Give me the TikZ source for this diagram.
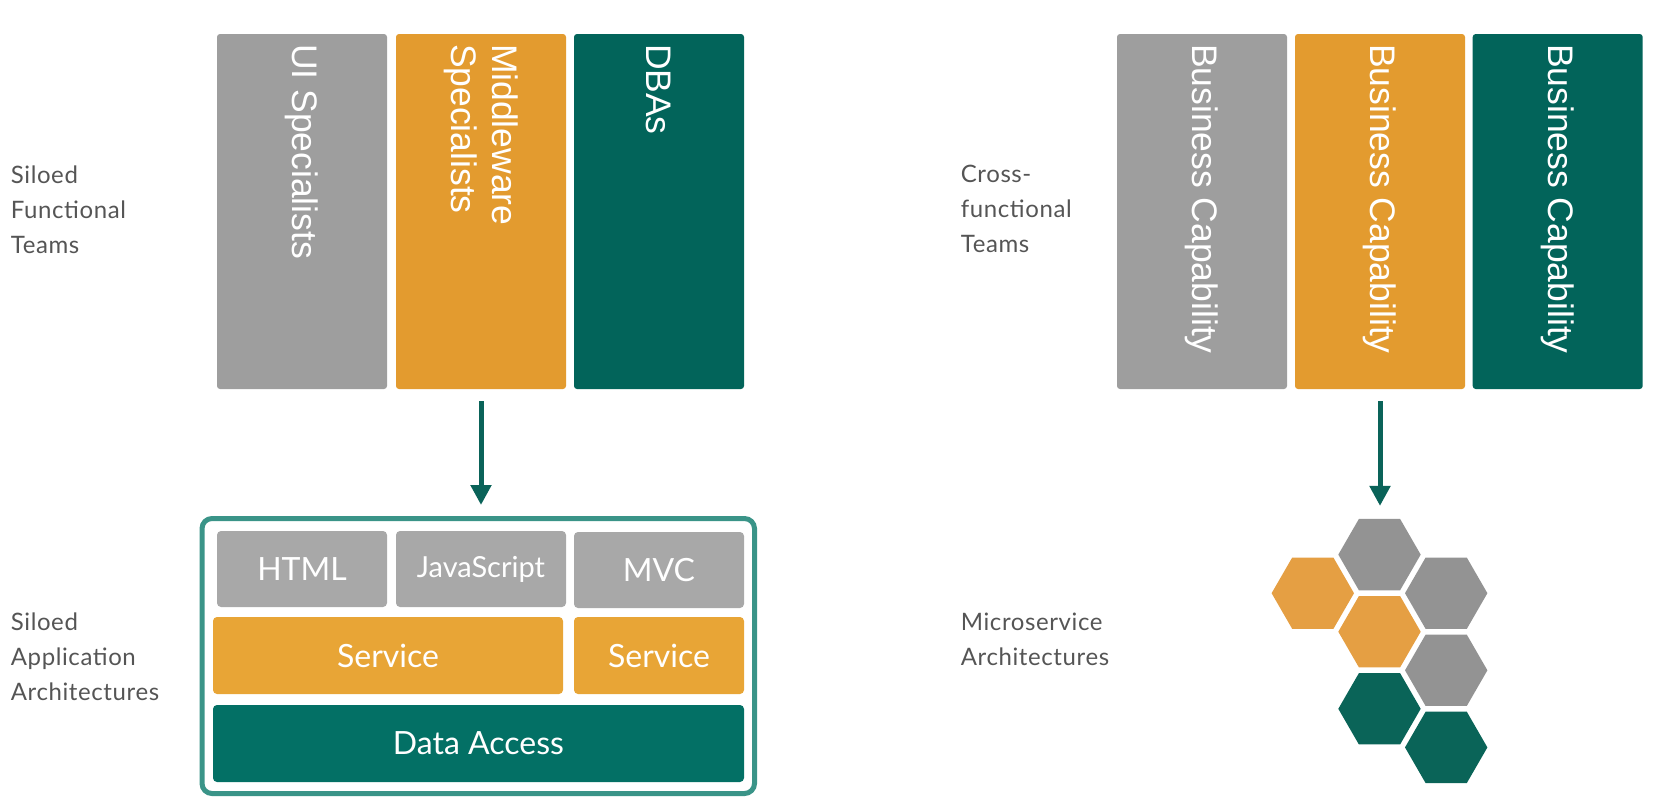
\documentclass[tikz,border=0pt]{standalone}
\usepackage{fontspec}
\usepackage{tikz}
\usetikzlibrary{arrows.meta,shapes.geometric}

\newfontfamily\labelfont{Lato}
\newfontfamily\sidefont{Lato}[LetterSpace=2.5]
\newfontfamily\teamfont{Liberation Sans}

\definecolor{colgray}{HTML}{9E9E9E}
\definecolor{colorange}{HTML}{E39B2F}
\definecolor{colgreen}{HTML}{02645A}
\definecolor{boxgray}{HTML}{A8A8A8}
\definecolor{boxorange}{HTML}{E8A536}
\definecolor{boxgreen}{HTML}{037065}
\definecolor{frameteal}{HTML}{3A9488}
\definecolor{hexgray}{HTML}{939393}
\definecolor{hexorange}{HTML}{E59F43}
\definecolor{hexgreen}{HTML}{0A6458}
\definecolor{arrowteal}{HTML}{0A6359}
\definecolor{labelgray}{HTML}{555555}

\tikzset{
  team/.style={rectangle, rounded corners=1.5pt, minimum width=85pt, minimum height=177.5pt, inner sep=0pt},
  teamtext/.style={rotate=-90, anchor=west, inner sep=0pt, text=white, align=left,
    font=\teamfont\fontsize{17.75pt}{20.5pt}\selectfont},
  layer/.style={rectangle, rounded corners=2pt, minimum width=85pt, minimum height=38pt, inner sep=0pt,
    text=white, font=\labelfont\fontsize{16pt}{19pt}\selectfont},
  sidelabel/.style={anchor=north west, inner sep=0pt, align=left, text=labelgray,
    font=\sidefont\fontsize{12pt}{17.5pt}\selectfont},
  hexcell/.style={regular polygon, regular polygon sides=6, minimum size=41.2pt, inner sep=0pt, outer sep=0pt},
  flow/.style={draw=arrowteal, line width=2.5pt, -{Triangle[width=10pt,length=10pt]}}
}

\begin{document}
\begin{tikzpicture}[x=0.5pt,y=-0.5pt]

\useasboundingbox (0,0) rectangle (1667,804);

% side labels
\node[sidelabel] (silofun) at (10.5,165) {Siloed\\Functional\\Teams};
\node[sidelabel] (siloarch) at (10.5,612) {Siloed\\Application\\Architectures};
\node[sidelabel] (crossfun) at (960.5,165) {Cross-\\functional\\Teams};
\node[sidelabel] (microarch) at (960.5,613) {Microservice\\Architectures};

% siloed teams
\foreach \X/\Tint/\Name in {302/colgray/ui, 481/colorange/mid, 659/colgreen/dba}{
    \node[team, fill=\Tint] (\Name) at (\X,211.5) {};
}
\node[teamtext] (uitext) at ([yshift=-5pt]ui.north) {UI Specialists};
\node[teamtext] (midtext) at ([yshift=-5pt]mid.north) {Middleware\\Specialists};
\node[teamtext] (dbatext) at ([yshift=-5pt]dba.north) {DBAs};

% cross-functional teams
\foreach \X/\Tint/\Name in {1202/colgray/bizui, 1380/colorange/bizmid, 1557.7/colgreen/bizdb}{
    \node[team, fill=\Tint] (\Name) at (\X,211.5) {};
    \node[teamtext] (\Name text) at ([yshift=-5pt]\Name.north) {Business Capability};
}

% siloed application
\node[draw=frameteal, line width=2.5pt, rounded corners=5pt, minimum width=276.25pt, minimum height=137.5pt] (stack) at (478.25,656) {};
\node[layer, fill=boxgray] (html) at (302,569) {HTML};
\node[layer, fill=boxgray, font=\labelfont\fontsize{14.5pt}{17pt}\selectfont] (js) at (481,569) {JavaScript};
\node[layer, fill=boxgray] (mvc) at (659,570) {MVC};
\node[layer, fill=boxorange, minimum width=175pt, minimum height=38.5pt] (svcwide) at (388,655.5) {Service};
\node[layer, fill=boxorange, minimum height=38.5pt] (svc) at (659,655.5) {Service};
\node[layer, fill=boxgreen, minimum width=265.5pt, minimum height=38.5pt] (data) at (478.5,743.5) {Data Access};

% microservices
\foreach \X/\Y/\Tint/\Name in {1379.5/554.6/hexgray/hexa, 1312.8/593.2/hexorange/hexb, 1446.2/593.2/hexgray/hexc,
    1379.5/631.7/hexorange/hexd, 1446.2/670.3/hexgray/hexe, 1379.5/708.8/hexgreen/hexf, 1446.2/747.4/hexgreen/hexg}{
    \node[hexcell, fill=\Tint] (\Name) at (\X,\Y) {};
}

\draw[flow, shorten <=6pt, shorten >=5.5pt] (mid.south) -- (mid.south |- stack.north);
\draw[flow, shorten <=6pt, shorten >=6.5pt] (bizmid.south) -- (bizmid.south |- hexa.north);

\end{tikzpicture}
\end{document}
